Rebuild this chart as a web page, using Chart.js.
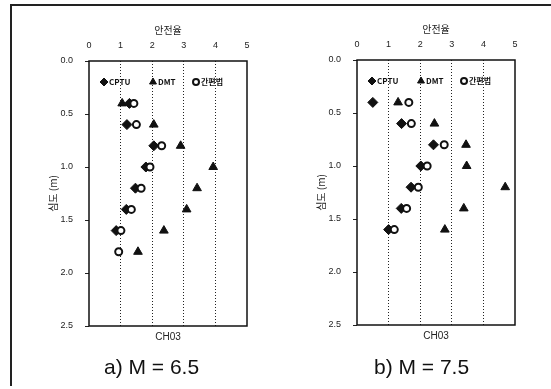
<!DOCTYPE html>
<html>
<head>
<meta charset="utf-8">
<script src="https://cdn.jsdelivr.net/npm/chart.js@4"></script>
<style>
  body { margin: 0; background: #fff; }
  #wrap { position: relative; width: 551px; height: 389px; overflow: hidden; }
  #frame { position: absolute; left: 10px; top: 4px; width: 541px; height: 380px;
           border-top: 2px solid #222; border-left: 2px solid #222; }
  canvas { position: absolute; }
  .cap { position: absolute; top: 354px; font: 21px 'Liberation Sans', Arial, sans-serif;
         color: #111; line-height: 25px; white-space: nowrap; }
</style>
</head>
<body>
<div id="wrap">
  <div id="frame"></div>
  <canvas id="chartA" width="268" height="389" style="left:0;top:0;width:268px;height:389px"></canvas>
  <canvas id="chartB" width="268" height="389" style="left:268px;top:-1px;width:268px;height:389px"></canvas>
  <div class="cap" style="left:104px">a) M = 6.5</div>
  <div class="cap" style="left:374px">b) M = 7.5</div>
</div>
<script>
// depths (m) and safety factors
const depthsA = [0.4, 0.6, 0.8, 1.0, 1.2, 1.4, 1.6, 1.8];
const cptuA   = [1.28, 1.2, 2.05, 1.8, 1.47, 1.18, 0.86, null];
const dmtA    = [1.05, 2.05, 2.9, 3.93, 3.42, 3.09, 2.37, 1.55];
const simpleA = [1.42, 1.5, 2.3, 1.93, 1.65, 1.34, 1.01, 0.94];

const depthsB = [0.4, 0.6, 0.8, 1.0, 1.2, 1.4, 1.6];
const cptuB   = [0.5, 1.41, 2.42, 2.02, 1.71, 1.4, 1.0];
const dmtB    = [1.3, 2.45, 3.45, 3.47, 4.69, 3.38, 2.78];
const simpleB = [1.64, 1.72, 2.76, 2.22, 1.94, 1.57, 1.18];

const seriesNames = ['CPTU', 'DMT', '간편법'];
const xTicks = [0, 1, 2, 3, 4, 5];
const yTicks = [0.0, 0.5, 1.0, 1.5, 2.0, 2.5];
const xTitle = '안전율';
const yTitle = '심도 (m)';
const siteLabel = 'CH03';

const baseFont = "'Liberation Sans', 'Noto Sans CJK KR', sans-serif";
const krFont = "'Noto Sans CJK KR', 'Liberation Sans', sans-serif";

function pts(depths, vals) {
    let out = [];
    for (let i = 0; i < depths.length; i++) {
        if (vals[i] !== null) out.push({ x: vals[i], y: depths[i] });
    }
    return out;
}

// box around the plotting area + legend row inside it
const framePlugin = {
    id: 'frameBox',
    afterDraw(chart) {
        const a = chart.chartArea;
        const ctx = chart.ctx;
        ctx.save();
        ctx.strokeStyle = '#111';
        ctx.lineWidth = 1.5;
        ctx.strokeRect(a.left, a.top, a.right - a.left, a.bottom - a.top);

        // legend: marker then name, in one row near the top
        const offsets = [15, 64, 107];
        const ly = a.top + 21;
        ctx.font = "bold 8px " + krFont;
        ctx.textBaseline = 'middle';
        ctx.textAlign = 'left';
        chart.data.datasets.forEach((ds, i) => {
            const mx = a.left + offsets[i];
            ctx.fillStyle = ds.backgroundColor;
            ctx.strokeStyle = ds.borderColor;
            ctx.lineWidth = ds.borderWidth;
            Chart.helpers.drawPoint(ctx, {
                pointStyle: ds.pointStyle,
                radius: ds.pointStyle === 'circle' ? 3 : 4,
                borderWidth: ds.borderWidth,
                rotation: 0
            }, mx, ly);
            ctx.fillStyle = '#111';
            ctx.fillText(ds.label, mx + 5, ly);
        });
        ctx.restore();
    }
};

function makeChart(id, depths, cptu, dmt, simple) {
    const ctx = document.getElementById(id).getContext('2d');
    return new Chart(ctx, {
        type: 'scatter',
        data: {
            datasets: [
                { label: seriesNames[0], data: pts(depths, cptu), pointStyle: 'rectRot', pointRadius: 5,
                  backgroundColor: '#111', borderColor: '#111', borderWidth: 1, order: 2 },
                { label: seriesNames[1], data: pts(depths, dmt), pointStyle: 'triangle', pointRadius: 5,
                  backgroundColor: '#111', borderColor: '#111', borderWidth: 1, order: 1 },
                { label: seriesNames[2], data: pts(depths, simple), pointStyle: 'circle', pointRadius: 3.5,
                  backgroundColor: '#fff', borderColor: '#111', borderWidth: 2, order: 0 }
            ]
        },
        options: {
            responsive: false,
            animation: false,
            layout: { padding: { left: 0, right: 21, top: 0, bottom: 43 } },
            plugins: {
                tooltip: { enabled: false },
                legend: { display: false }
            },
            scales: {
                x: {
                    type: 'linear',
                    position: 'top',
                    min: 0, max: 5,
                    afterBuildTicks: s => { s.ticks = xTicks.map(v => ({ value: v })); },
                    afterFit: s => { s.height = 61; },
                    ticks: { color: '#222', padding: 10, font: { family: baseFont, size: 9 } },
                    grid: {
                        drawTicks: false,
                        color: c => (c.tick && c.tick.value > 0 && c.tick.value < 5) ? '#222' : 'rgba(0,0,0,0)',
                        lineWidth: 1
                    },
                    border: { display: false, dash: [1, 2] },
                    title: { display: true, text: xTitle, color: '#222',
                             font: { family: krFont, size: 10 }, padding: { top: 24, bottom: 0 } }
                },
                xb: {
                    type: 'linear',
                    position: 'bottom',
                    min: 0, max: 5,
                    afterFit: s => { s.height = 20; },
                    ticks: { display: false },
                    grid: { display: false },
                    border: { display: false },
                    title: { display: true, text: siteLabel, color: '#222',
                             font: { family: baseFont, size: 10 }, padding: { top: 0, bottom: 3 } }
                },
                y: {
                    type: 'linear',
                    position: 'left',
                    reverse: true,
                    min: 0, max: 2.5,
                    afterBuildTicks: s => { s.ticks = yTicks.map(v => ({ value: v })); },
                    afterFit: s => { s.width = 89; },
                    ticks: { color: '#222', padding: 12, font: { family: baseFont, size: 9 },
                             callback: v => Number(v).toFixed(1) },
                    grid: { drawOnChartArea: false, drawTicks: true, tickLength: 4, color: '#222' },
                    border: { display: false },
                    title: { display: true, text: yTitle, color: '#222',
                             font: { family: krFont, size: 10 }, padding: { top: 47, bottom: 0 } }
                }
            }
        },
        plugins: [framePlugin]
    });
}

makeChart('chartA', depthsA, cptuA, dmtA, simpleA);
makeChart('chartB', depthsB, cptuB, dmtB, simpleB);
</script>
</body>
</html>
